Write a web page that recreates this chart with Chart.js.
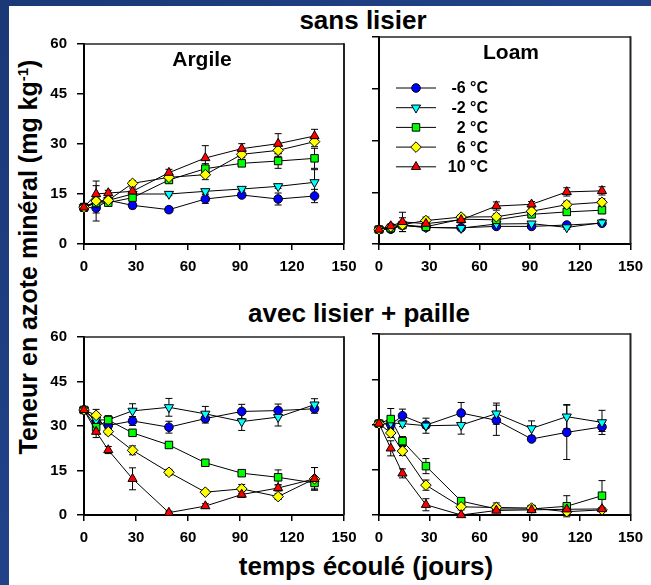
<!DOCTYPE html>
<html>
<head>
<meta charset="utf-8">
<script src="https://cdn.jsdelivr.net/npm/chart.js@4.4.1/dist/chart.umd.min.js"></script>
<style>
  html, body { margin: 0; padding: 0; }
  body {
    width: 651px; height: 585px; position: relative; overflow: hidden;
    background: linear-gradient(135deg, #1b3877, #22438a 50%, #1a3675);
    font-family: "Liberation Sans", Arial, sans-serif;
  }
  #sheet { position: absolute; left: 9px; top: 6px; right: 0; bottom: 0; background: #fff; }
  canvas { position: absolute; }
  .ttl {
    position: absolute; font-weight: bold; color: #000; white-space: nowrap;
    font-size: 26px; line-height: 26px; transform: translateX(-50%);
  }
  #ylab {
    position: absolute; left: 28px; top: 257px; font-weight: bold; font-size: 25px; line-height: 25px;
    white-space: nowrap; transform: translate(-50%, -50%) rotate(-90deg);
  }
  #ylab sup { font-size: 15px; vertical-align: 9px; line-height: 0; }
</style>
</head>
<body>
<div id="sheet"></div>
<div class="ttl" style="left:363px; top:7px;">sans lisier</div>
<div class="ttl" style="left:359px; top:300px;">avec lisier + paille</div>
<div class="ttl" style="left:366px; top:553px;">temps écoulé (jours)</div>
<div id="ylab">Teneur en azote minéral (mg kg<sup>-1</sup>)</div>
<canvas id="tl" width="340" height="265" style="left:30px; top:25px;"></canvas>
<canvas id="tr" width="301" height="265" style="left:350px; top:25px;"></canvas>
<canvas id="bl" width="340" height="245" style="left:30px; top:318px;"></canvas>
<canvas id="br" width="301" height="245" style="left:350px; top:318px;"></canvas>
<script>
// jours d'incubation
const days = [0, 7, 14, 28, 49, 70, 91, 112, 133];
const labels = ['-6 °C', '-2 °C', '2 °C', '6 °C', '10 °C'];

// sans lisier - Argile (ordre : -6, -2, 2, 6, 10 °C)
const argileSans = [
  [11.0, 10.8, 13.1, 11.6, 10.3, 13.5, 14.7, 13.5, 14.4],
  [11.0, 12.4, 13.1, 15.0, 15.0, 15.8, 16.5, 17.3, 18.5],
  [11.0, 12.3, 12.4, 13.9, 19.2, 22.6, 24.2, 24.9, 25.7],
  [11.0, 12.9, 13.1, 18.2, 20.0, 20.8, 26.9, 28.1, 30.7],
  [11.0, 15.0, 15.3, 15.8, 21.4, 25.8, 28.6, 30.1, 32.4]
];
const argileSansErr = [
  [1.2, 1.5, 0.8, 1.0, 0.8, 1.3, 0.8, 1.8, 2.0],
  [1.0, 1.0, 0.8, 0.5, 0.5, 0.5, 0.5, 0.6, 3.8],
  [1.0, 1.5, 0.8, 1.0, 1.0, 1.5, 0.8, 2.2, 3.0],
  [1.0, 6.0, 1.0, 0.8, 1.0, 1.5, 1.0, 1.8, 1.5],
  [1.0, 2.5, 0.8, 1.0, 1.0, 3.7, 1.5, 3.0, 2.0]
];

// sans lisier - Loam
const loamSans = [
  [4.2, 4.3, 5.4, 4.8, 4.7, 5.1, 5.1, 5.5, 6.0],
  [4.2, 4.5, 5.4, 4.8, 4.6, 5.8, 5.9, 4.8, 6.2],
  [4.2, 4.6, 5.5, 5.0, 7.2, 7.0, 8.6, 9.3, 9.8],
  [4.2, 5.0, 5.6, 6.8, 7.8, 7.9, 9.5, 11.4, 12.1],
  [4.2, 5.2, 6.4, 5.9, 7.0, 11.0, 11.5, 15.1, 15.4]
];
const loamSansErr = [
  [0.4, 0.4, 0.8, 0.4, 0.4, 0.5, 0.4, 0.5, 0.5],
  [0.4, 0.4, 0.8, 0.4, 0.4, 0.5, 0.4, 0.5, 0.5],
  [0.4, 0.5, 1.0, 0.5, 0.5, 0.7, 0.6, 1.0, 1.0],
  [0.4, 0.5, 2.0, 1.0, 0.6, 0.8, 0.7, 1.0, 1.0],
  [0.4, 0.6, 2.8, 0.8, 0.6, 1.2, 0.8, 1.2, 1.2]
];

// avec lisier + paille - Argile
const argileAvec = [
  [35.4, 31.5, 30.2, 31.7, 29.6, 32.5, 34.9, 35.2, 35.8],
  [35.4, 32.0, 32.1, 35.1, 36.3, 34.1, 31.5, 33.0, 37.2],
  [35.4, 29.6, 32.0, 27.7, 23.6, 17.6, 14.1, 12.7, 10.8],
  [35.4, 33.6, 28.1, 21.8, 14.4, 7.7, 8.8, 6.2, 12.2],
  [35.4, 28.1, 21.9, 12.2, 0.8, 3.0, 6.9, 9.1, 12.2]
];
const argileAvecErr = [
  [0.6, 1.0, 1.0, 1.5, 2.0, 1.5, 2.4, 2.2, 1.5],
  [0.6, 1.5, 1.0, 2.4, 3.0, 2.5, 3.0, 3.0, 2.0],
  [0.6, 1.5, 1.5, 1.0, 0.8, 0.8, 0.8, 2.5, 2.0],
  [0.6, 2.0, 1.0, 1.5, 1.0, 0.8, 1.5, 1.0, 3.8],
  [0.6, 2.0, 1.2, 3.7, 0.5, 0.8, 1.0, 1.0, 3.8]
];

// avec lisier + paille - Loam
const loamAvec = [
  [30.3, 30.0, 32.9, 29.8, 33.8, 31.4, 25.2, 27.4, 29.2],
  [30.3, 30.5, 30.3, 29.6, 29.8, 33.6, 28.7, 32.6, 30.7],
  [30.3, 31.8, 24.5, 16.2, 4.6, 2.0, 2.0, 2.9, 6.4],
  [30.3, 27.2, 21.2, 9.9, 2.7, 2.5, 2.3, 1.1, 1.7],
  [30.3, 22.1, 13.8, 3.4, 0.0, 1.5, 1.7, 1.9, 2.0]
];
const loamAvecErr = [
  [0.5, 1.0, 2.2, 1.0, 3.5, 5.0, 0.8, 9.0, 1.5],
  [0.5, 1.0, 1.0, 2.5, 3.0, 3.5, 2.5, 4.0, 4.0],
  [0.5, 3.5, 1.5, 2.5, 1.0, 0.5, 0.5, 3.5, 5.0],
  [0.5, 1.5, 1.5, 1.7, 1.0, 1.5, 0.5, 0.5, 0.5],
  [0.5, 2.5, 1.5, 2.0, 0.3, 0.3, 0.3, 0.3, 0.5]
];

const yTicks = [0, 15, 30, 45, 60];

// marker style per series
const markers = [
  { color: '#0000ff', style: 'circle', radius: 4.3, rotation: 0 },
  { color: '#00ffff', style: 'triangle', radius: 5.3, rotation: 180 },
  { color: '#00ff00', style: 'rect', radius: 5.3, rotation: 0 },
  { color: '#ffff00', style: 'rectRot', radius: 5.3, rotation: 0 },
  { color: '#ff0000', style: 'triangle', radius: 5.3, rotation: 0 }
];

const FONT = '"Liberation Sans", Arial, sans-serif';
Chart.defaults.font.family = FONT;
Chart.defaults.color = '#000';

// error bars, drawn under the markers
const errorBars = {
  id: 'errorBars',
  beforeDatasetsDraw(chart) {
    const { ctx, scales: { x, y } } = chart;
    ctx.save();
    ctx.strokeStyle = '#000';
    ctx.lineWidth = 1;
    chart.data.datasets.forEach(ds => {
      ds.data.forEach((p, k) => {
        const e = ds.errors[k];
        const px = x.getPixelForValue(p.x);
        const top = y.getPixelForValue(p.y + e);
        const bot = y.getPixelForValue(p.y - e);
        ctx.beginPath();
        ctx.moveTo(px, top); ctx.lineTo(px, bot);
        ctx.moveTo(px - 3.5, top); ctx.lineTo(px + 3.5, top);
        ctx.moveTo(px - 3.5, bot); ctx.lineTo(px + 3.5, bot);
        ctx.stroke();
      });
    });
    ctx.restore();
  }
};

// top and right edges of the frame + panel name + legend
const decor = {
  id: 'decor',
  afterDraw(chart, args, opts) {
    const { ctx, chartArea: a } = chart;
    ctx.save();
    ctx.strokeStyle = '#222';
    ctx.lineWidth = 1.5;
    ctx.beginPath();
    ctx.moveTo(a.left, a.top); ctx.lineTo(a.right, a.top);
    ctx.stroke();
    ctx.lineWidth = 2;
    ctx.beginPath();
    ctx.moveTo(a.right, a.top - 0.75); ctx.lineTo(a.right, a.bottom);
    ctx.stroke();

    if (opts.name) {
      ctx.fillStyle = '#000';
      ctx.font = 'bold 21px ' + FONT;
      ctx.textAlign = 'center';
      ctx.textBaseline = 'alphabetic';
      ctx.fillText(opts.name, a.left + opts.nameX, a.top + 22);
    }

    if (opts.legend) {
      ctx.font = 'bold 16px ' + FONT;
      ctx.textAlign = 'right';
      ctx.textBaseline = 'middle';
      labels.forEach((lab, i) => {
        const ly = a.top + 51 + i * 19.7;
        ctx.strokeStyle = '#000';
        ctx.lineWidth = 1;
        ctx.beginPath();
        ctx.moveTo(a.left + 17, ly); ctx.lineTo(a.left + 57, ly);
        ctx.stroke();
        const m = markers[i];
        ctx.fillStyle = m.color;
        Chart.helpers.drawPoint(ctx, { pointStyle: m.style, rotation: m.rotation, radius: m.radius, borderWidth: 1 }, a.left + 37, ly);
        ctx.fillStyle = '#000';
        ctx.fillText(lab, a.left + 109, ly + 1);
      });
    }
    ctx.restore();
  }
};

function makePanel(id, values, errs, box, plot, showY, extra) {
  const cv = document.getElementById(id);
  const datasets = values.map((vals, i) => ({
    label: labels[i],
    data: days.map((d, k) => ({ x: d, y: vals[k] })),
    errors: errs[i],
    borderColor: '#000',
    borderWidth: 1,
    pointStyle: markers[i].style,
    pointRotation: markers[i].rotation,
    pointRadius: markers[i].radius,
    pointBackgroundColor: markers[i].color,
    pointBorderColor: '#000',
    pointBorderWidth: 1,
    tension: 0,
    fill: false,
    clip: false,
    order: 4 - i
  }));
  const tickFont = { size: 15, weight: 'bold' };
  return new Chart(cv, {
    type: 'line',
    data: { datasets },
    options: {
      responsive: false,
      animation: false,
      events: [],
      layout: { padding: { top: plot.t - box.t, right: box.l + box.w - plot.r, left: 0, bottom: 0 } },
      plugins: { legend: { display: false }, tooltip: { enabled: false }, decor: extra },
      scales: {
        x: {
          type: 'linear', min: 0, max: 150,
          ticks: { stepSize: 30, font: tickFont, color: '#000', padding: 8, maxRotation: 0 },
          grid: { drawOnChartArea: false, drawTicks: true, tickLength: 6, color: '#000', lineWidth: 1.5 },
          border: { display: true, color: '#000', width: 2 },
          afterFit: s => { s.height = box.t + box.h - plot.b; }
        },
        y: {
          type: 'linear', min: 0, max: 60,
          afterBuildTicks: s => { s.ticks = yTicks.map(v => ({ value: v })); },
          ticks: { display: showY, font: tickFont, color: '#000', padding: 10 },
          grid: { drawOnChartArea: false, drawTicks: true, tickLength: 7, color: '#000', lineWidth: 1.5 },
          border: { display: true, color: '#000', width: 2 },
          afterFit: s => { s.width = plot.l - box.l; }
        }
      }
    },
    plugins: [errorBars, decor]
  });
}

makePanel('tl', argileSans, argileSansErr,
  { l: 30, t: 25, w: 340, h: 265 }, { l: 84, t: 37, r: 344, b: 244 }, true,
  { name: 'Argile', nameX: 118 });
makePanel('tr', loamSans, loamSansErr,
  { l: 350, t: 25, w: 301, h: 265 }, { l: 379, t: 37, r: 637, b: 244 }, false,
  { name: 'Loam', nameX: 132, legend: true });
makePanel('bl', argileAvec, argileAvecErr,
  { l: 30, t: 318, w: 340, h: 245 }, { l: 84, t: 334, r: 344, b: 515 }, true, {});
makePanel('br', loamAvec, loamAvecErr,
  { l: 350, t: 318, w: 301, h: 245 }, { l: 379, t: 334, r: 637, b: 515 }, false, {});
</script>
</body>
</html>
